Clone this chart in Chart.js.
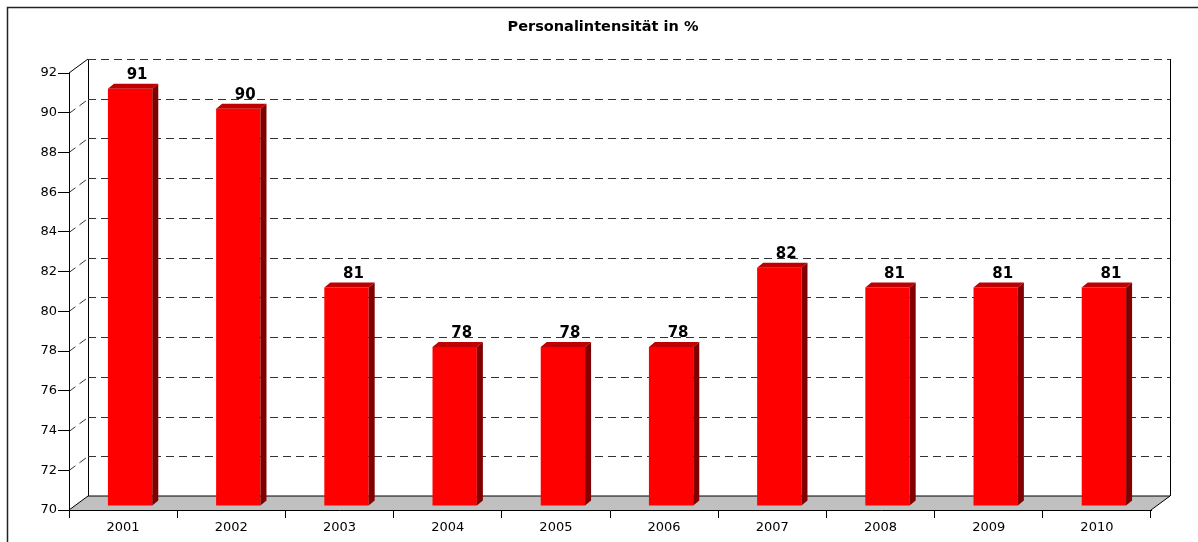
<!DOCTYPE html>
<html>
<head>
<meta charset="utf-8">
<script src="https://cdn.jsdelivr.net/npm/chart.js@4/dist/chart.umd.min.js"></script>
<style>
  html, body { margin: 0; padding: 0; background: #fff; }
  #wrap { width: 1198px; height: 542px; }
</style>
</head>
<body>
<div id="wrap"><canvas id="chart" width="1198" height="542"></canvas></div>
<script>
const chartTitle = 'Personalintensität in %';
const years = ['2001', '2002', '2003', '2004', '2005', '2006', '2007', '2008', '2009', '2010'];
const personal = [91, 90, 81, 78, 78, 78, 82, 81, 81, 81];
const yMin = 70;
const yMax = 92;
const yStep = 2;

// 3d look: back wall offset and bar depth
const wallDx = 19, wallDy = -14;
const barDx = 7, barDy = -4;
const depthX = 6, depthY = -5;
const fontFam = '"DejaVu Sans", Verdana, sans-serif';

const fram = document.getElementById('chart');

const box3d = {
  id: 'box3d',
  beforeDraw(chart) {
    const ctx = chart.ctx;
    const a = chart.chartArea;
    const y = chart.scales.y;
    ctx.save();
    ctx.fillStyle = '#fff';
    ctx.fillRect(0, 0, chart.width, chart.height);
    // outer frame
    ctx.strokeStyle = '#222';
    ctx.lineWidth = 1.5;
    ctx.strokeRect(7.5, 7.5, chart.width + 20, chart.height + 20);

    // title, centred on the whole frame
    ctx.fillStyle = '#000';
    ctx.font = 'bold 14.5px ' + fontFam;
    ctx.textAlign = 'center';
    ctx.textBaseline = 'middle';
    ctx.fillText(chartTitle, 603, 27);

    const bl = a.left + wallDx, br = a.right + wallDx;
    const bt = a.top + wallDy, bb = a.bottom + wallDy;

    // floor
    ctx.fillStyle = '#c0c0c0';
    ctx.beginPath();
    ctx.moveTo(a.left, a.bottom);
    ctx.lineTo(bl, bb);
    ctx.lineTo(br, bb);
    ctx.lineTo(a.right, a.bottom);
    ctx.closePath();
    ctx.fill();

    ctx.lineWidth = 1;
    ctx.strokeStyle = '#000';
    ctx.beginPath();
    ctx.moveTo(a.left, a.bottom); ctx.lineTo(bl, bb);
    ctx.lineTo(br, bb);
    ctx.moveTo(a.right, a.bottom); ctx.lineTo(br, bb);
    ctx.moveTo(bl + 0.5, bb); ctx.lineTo(bl + 0.5, bt);
    ctx.moveTo(br + 0.5, bb); ctx.lineTo(br + 0.5, bt);
    ctx.moveTo(a.left, a.top); ctx.lineTo(bl, bt);
    ctx.stroke();

    // dashed grid on side and back wall
    ctx.setLineDash([8, 5]);
    ctx.strokeStyle = '#333';
    for (let v = yMin + yStep; v <= yMax; v += yStep) {
      const py = Math.round(y.getPixelForValue(v)) + 0.5;
      ctx.beginPath();
      if (v < yMax) {
        ctx.moveTo(a.left, py);
        ctx.lineTo(bl, py + wallDy);
      }
      ctx.moveTo(bl, py + wallDy);
      ctx.lineTo(br, py + wallDy);
      ctx.stroke();
    }
    ctx.restore();
  },
  beforeDatasetsDraw(chart) {
    chart.ctx.save();
    chart.ctx.translate(barDx, barDy);
  },
  afterDatasetsDraw(chart) {
    const ctx = chart.ctx;
    const meta = chart.getDatasetMeta(0);
    meta.data.forEach((bar, i) => {
      const L = bar.x - bar.width / 2, R = bar.x + bar.width / 2;
      const T = bar.y, B = Math.min(bar.base, chart.chartArea.bottom);
      ctx.fillStyle = '#c00000';
      ctx.beginPath();
      ctx.moveTo(L, T); ctx.lineTo(L + depthX, T + depthY);
      ctx.lineTo(R + depthX, T + depthY); ctx.lineTo(R, T);
      ctx.closePath(); ctx.fill();
      ctx.fillStyle = '#800000';
      ctx.beginPath();
      ctx.moveTo(R, T); ctx.lineTo(R + depthX, T + depthY);
      ctx.lineTo(R + depthX, B + depthY); ctx.lineTo(R, B);
      ctx.closePath(); ctx.fill();

      ctx.fillStyle = '#000';
      ctx.font = 'bold 15px ' + fontFam;
      ctx.textAlign = 'center';
      ctx.textBaseline = 'alphabetic';
      ctx.fillText(String(personal[i]), bar.x + 7, T + depthY - 5);
    });
    ctx.restore();
  }
};

new Chart(fram, {
  type: 'bar',
  data: {
    labels: years,
    datasets: [{
      label: 'Personalintensität',
      data: personal,
      base: yMin,
      backgroundColor: '#ff0000',
      borderWidth: 0,
      barPercentage: 0.41,
      categoryPercentage: 1
    }]
  },
  options: {
    responsive: false,
    animation: false,
    layout: { padding: { left: 8, right: 47, top: 73, bottom: 0 } },
    plugins: {
      legend: { display: false },
      tooltip: { enabled: false },
      title: { display: false }
    },
    scales: {
      x: {
        afterFit: (s) => { s.height = 32; },
        grid: { display: true, drawOnChartArea: false, drawTicks: true, tickLength: 8, color: '#000', offset: true },
        border: { display: true, color: '#000', width: 1 },
        ticks: { color: '#000', padding: 2, font: { family: fontFam, size: 13 } }
      },
      y: {
        min: yMin,
        max: yMax,
        afterFit: (s) => { s.width = 61; },
        grid: { display: true, drawOnChartArea: false, drawTicks: true, tickLength: 11, color: '#000' },
        border: { display: true, color: '#000', width: 1 },
        ticks: { stepSize: yStep, color: '#000', padding: 1, font: { family: fontFam, size: 13 } }
      }
    }
  },
  plugins: [box3d]
});
</script>
</body>
</html>
